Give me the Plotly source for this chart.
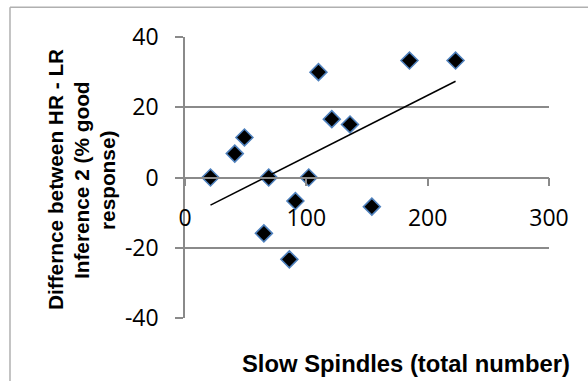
import numpy as np
import plotly.graph_objects as go

# Data
slow_spindles = [21, 41, 49, 69, 65, 91, 86, 102, 110, 121, 136, 154, 185, 223]
diff_hr_lr = [0, 6.8, 11.4, 0, -15.9, -6.7, -23.3, 0, 30.0, 16.6, 15.1, -8.3, 33.3, 33.3]

x_ticks = [0, 100, 200, 300]
y_ticks = [-40, -20, 0, 20, 40]
y_tick_text = ["-40", "-20", "0", "20", "40"]

x_title = "Slow Spindles (total number)"
y_title_lines = ["Differnce between HR - LR", "Inference 2 (% good", "response)"]

# Linear trendline
coef = np.polyfit(slow_spindles, diff_hr_lr, 1)
tx = np.array([min(slow_spindles), max(slow_spindles)])
ty = np.polyval(coef, tx)

grid_col = "#8a8a8a"
tick_font = dict(family="Open Sans", size=23, color="black")

fig = go.Figure()
fig.add_trace(go.Scatter(
    x=slow_spindles, y=diff_hr_lr, mode="markers",
    marker=dict(symbol="diamond", size=13, color="black",
                line=dict(color="#4f81bd", width=1.6)),
    showlegend=False, hoverinfo="skip"))
fig.add_trace(go.Scatter(
    x=tx, y=ty, mode="lines", line=dict(color="black", width=1.5),
    showlegend=False, hoverinfo="skip"))
# invisible trace for the crossing x axis
fig.add_trace(go.Scatter(x=[None], y=[None], xaxis="x2", showlegend=False))

annotations = [
    dict(text=x_title, xref="paper", yref="paper", x=0.608, y=-0.162,
         xanchor="center", yanchor="middle", showarrow=False,
         font=dict(family="Liberation Sans", size=23.8, color="black",
                   weight="bold")),
]
for i, line in enumerate(y_title_lines):
    annotations.append(dict(
        text=line, xref="paper", yref="paper", x=-0.3571 + i * 0.0714,
        y=0.491, xanchor="center", yanchor="middle", showarrow=False,
        textangle=-90,
        font=dict(family="Liberation Sans", size=20.8, color="black",
                  weight="bold")))

fig.update_layout(
    width=588, height=381,
    margin=dict(l=185, r=39, t=37, b=63),
    paper_bgcolor="white", plot_bgcolor="white",
    xaxis=dict(range=[0, 300], showgrid=False, showticklabels=False,
               ticks="", showline=False, zeroline=False, fixedrange=True),
    xaxis2=dict(range=[0, 300], overlaying="x", anchor="free", position=0.5,
                side="bottom", tickvals=x_ticks, ticks="outside", ticklen=8,
                tickcolor=grid_col, tickwidth=1.5, showline=True,
                linecolor=grid_col, linewidth=1.5, showgrid=False,
                zeroline=False, tickfont=tick_font, ticklabelstandoff=12),
    yaxis=dict(range=[-40, 40], tickvals=y_ticks, ticktext=y_tick_text,
               showgrid=True,
               gridcolor=grid_col, gridwidth=1.5, zeroline=False,
               showline=True, linecolor=grid_col, linewidth=1.5,
               ticks="outside", ticklen=8, tickcolor=grid_col, tickwidth=1.5,
               tickfont=tick_font, ticklabelstandoff=12, fixedrange=True),
    annotations=annotations,
    shapes=[
        dict(type="line", xref="paper", yref="paper", x0=-0.4808, x1=1.2,
             y0=1.1055, y1=1.1055, line=dict(color="#b0b0b0", width=1.5)),
        dict(type="line", xref="paper", yref="paper", x0=-0.4808, x1=-0.4808,
             y0=-0.3, y1=1.1055, line=dict(color="#b0b0b0", width=1.5)),
    ],
)

fig.write_html("out.html")
